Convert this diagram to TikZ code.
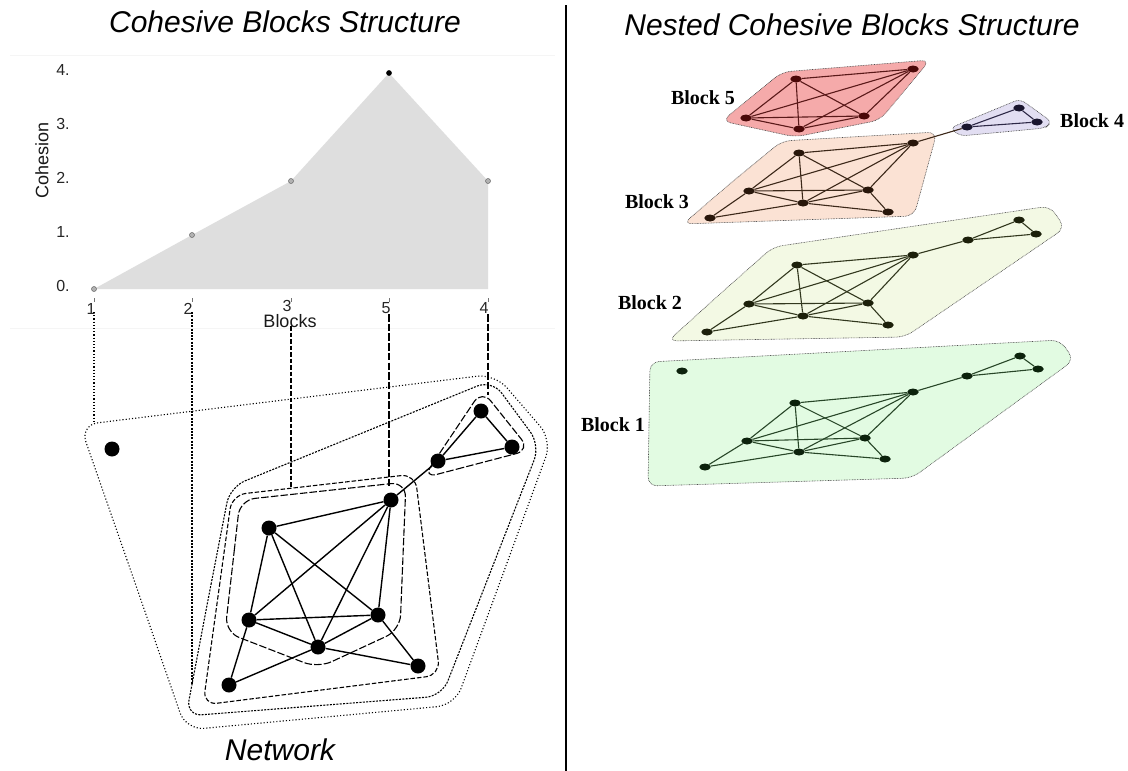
\documentclass[tikz,border=0pt]{standalone}
\usepackage{fontspec}
\setmainfont{Liberation Sans}
\newfontfamily\blkfont{Liberation Serif}
\usetikzlibrary{shapes.geometric}
\definecolor{chartfill}{RGB}{222,222,222}
\definecolor{fillA}{RGB}{226,251,226}
\definecolor{fillB}{RGB}{243,249,228}
\definecolor{fillC}{RGB}{251,226,212}
\definecolor{fillD}{RGB}{226,222,242}
\definecolor{fillE}{RGB}{245,170,170}
\definecolor{nodeA}{RGB}{12,34,12}
\definecolor{nodeB}{RGB}{28,32,10}
\definecolor{nodeC}{RGB}{40,22,10}
\definecolor{nodeD}{RGB}{26,22,46}
\definecolor{nodeE}{RGB}{75,8,8}
\definecolor{edgeA}{RGB}{40,70,40}
\definecolor{edgeB}{RGB}{50,56,30}
\definecolor{edgeC}{RGB}{60,40,25}
\definecolor{edgeD}{RGB}{45,40,70}
\definecolor{edgeE}{RGB}{90,25,25}
\begin{document}
\begin{tikzpicture}[x=1pt,y=-1pt,
  titletext/.style={font=\fontsize{30}{36}\selectfont\itshape, inner sep=0},
  axlab/.style={font=\fontsize{18}{22}\selectfont, inner sep=0, text=black!90},
  ticklab/.style={font=\fontsize{16}{19}\selectfont, inner sep=0, text=black!85},
  chartpt/.style={circle, fill=gray!60, draw=black!60, line width=0.5pt, inner sep=0, minimum size=5pt},
  netnode/.style={circle, fill=black, inner sep=0, minimum size=15pt},
  netedge/.style={line width=1.4pt},
  cA/.style={dash pattern=on 1.1pt off 2.1pt, line width=1.1pt},
  cB/.style={dash pattern=on 2pt off 1.3pt, line width=1.1pt},
  cC/.style={dash pattern=on 4.5pt off 2pt, line width=1.1pt},
  cE/.style={dash pattern=on 7.5pt off 2.2pt, line width=1.1pt},
  cD/.style={dash pattern=on 7.5pt off 2.2pt, line width=1.1pt},
  blkshape/.style={draw=black!70, dash pattern=on 0.8pt off 0.8pt, line width=0.6pt, rounded corners=9pt},
  rnode/.style={ellipse, fill=#1, inner sep=0, minimum width=11.5pt, minimum height=7pt},
  redge/.style={draw=#1, line width=1.1pt},
  blklab/.style={font=\blkfont\bfseries\fontsize{20}{24}\selectfont, inner sep=0}
]
\fill[white] (0,0) rectangle (1128,771);
\useasboundingbox (0,0) rectangle (1128,771);

% ---------------- titles and divider ----------------
\node[titletext] (ttl) at (285,22) {Cohesive Blocks Structure};
\node[titletext] (ttr) at (852,25) {Nested Cohesive Blocks Structure};
\node[titletext] (ttn) at (280,750) {Network};
\coordinate (dtop) at (566,5);
\coordinate (dbot) at (566,771);
\draw[line width=1.3pt] (dtop) -- (dbot);

% ---------------- chart ----------------
\draw[black!4, line width=1pt] (10,55) -- (555,55);
\draw[black!4, line width=1pt] (10,328) -- (555,328);
\coordinate (q1) at (94,289);
\coordinate (q2) at (192,235);
\coordinate (q3) at (291,181);
\coordinate (q5) at (389,73);
\coordinate (q4) at (488,181);
\coordinate (q0) at (488,289);
\fill[chartfill] (q1) -- (q2) -- (q3) -- (q5) -- (q4) -- (q0) -- cycle;
\node[chartpt] (p1) at (q1) {};
\node[chartpt] (p2) at (q2) {};
\node[chartpt] (p3) at (q3) {};
\node[chartpt, fill=black, draw=black] (p5) at (q5) {};
\node[chartpt] (p4) at (q4) {};
\node[ticklab] (y4) at (63,70) {4.};
\node[ticklab] (y3) at (63,124) {3.};
\node[ticklab] (y2) at (63,178) {2.};
\node[ticklab] (y1) at (63,232) {1.};
\node[ticklab] (y0) at (63,286) {0.};
\node[axlab, rotate=90] (ylab) at (42,160) {Cohesion};
\node[ticklab] (x1) at (91,309) {1};
\node[ticklab] (x2) at (188,309) {2};
\node[ticklab] (x3) at (287,306) {3};
\node[ticklab] (x5) at (386,308) {5};
\node[ticklab] (x4) at (484,308) {4};
\node[axlab] (xlab) at (290,321) {Blocks};
\foreach \xx in {94,192,291,389,488} {\draw[black!55, line width=0.5pt] (\xx,298) -- (\xx,302);}

% ---------------- network contours ----------------
\draw[cA, rounded corners=18pt] (133,577) -- (80,425) -- (495,374) -- (552,440) -- (455,705) -- (186,730) -- cycle;
\draw[cB, rounded corners=16pt] (208,600) -- (230,487) -- (492,380) -- (540,445) -- (442,696) -- (186,716) -- cycle;
\draw[cC, rounded corners=14pt] (217.5,600) -- (232,495) -- (415,474) -- (440,675) -- (203,705) -- cycle;
\draw[cE, rounded corners=15pt] (232.5,566) -- (240,500) -- (406,482) -- (400,630) -- (318,668) -- (225,632) -- cycle;
\draw[cD, rounded corners=14pt] (476.5,464) -- (423,478) -- (482,390) -- (530,450) -- cycle;

% connectors from the chart
\coordinate (k1s) at (94,312);  \coordinate (k1e) at (94,423);
\coordinate (k2s) at (192,312); \coordinate (k2e) at (192,684);
\coordinate (k3s) at (291,326); \coordinate (k3e) at (291,488);
\coordinate (k5s) at (389,314); \coordinate (k5e) at (389,486);
\coordinate (k4s) at (488,314); \coordinate (k4e) at (488,395);
\draw[cA] (k1s) -- (k1e);
\draw[cB] (k2s) -- (k2e);
\draw[cC] (k3s) -- (k3e);
\draw[cE] (k5s) -- (k5e);
\draw[cD] (k4s) -- (k4e);

% ---------------- network ----------------
\node[netnode] (iso) at (112,449) {};
\node[netnode] (n1) at (269,528) {};
\node[netnode] (n2) at (391,500) {};
\node[netnode] (n3) at (249,620) {};
\node[netnode] (n4) at (378,615) {};
\node[netnode] (n5) at (318,647) {};
\node[netnode] (n6) at (229,685) {};
\node[netnode] (n7) at (418,666) {};
\node[netnode] (m1) at (438,461) {};
\node[netnode] (m2) at (481,411) {};
\node[netnode] (m3) at (512,447) {};
\foreach \u/\v in {n1/n2,n1/n3,n1/n4,n1/n5,n2/n3,n2/n4,n2/n5,n3/n4,n3/n5,n4/n5,n3/n6,n6/n5,n5/n7,n4/n7,n2/m1,m1/m2,m2/m3,m1/m3}
  {\draw[netedge] (\u) -- (\v);}

% ---------------- nested blocks (right) ----------------
% Block 1
\filldraw[blkshape, fill=fillA] (649,424) -- (650,362) -- (1060,340) -- (1074,360) -- (912,478) -- (648,486) -- cycle;
\node[rnode=nodeA] (a0) at (682,371) {};
\node[rnode=nodeA] (aa) at (795,403) {};
\node[rnode=nodeA] (ab) at (913,392) {};
\node[rnode=nodeA] (ac) at (747,441) {};
\node[rnode=nodeA] (ad) at (865,438) {};
\node[rnode=nodeA] (ae) at (799,452) {};
\node[rnode=nodeA] (af) at (705,467) {};
\node[rnode=nodeA] (ag) at (885,459) {};
\node[rnode=nodeA] (ah) at (967,376) {};
\node[rnode=nodeA] (ai) at (1020,356) {};
\node[rnode=nodeA] (aj) at (1038,369) {};
\foreach \u/\v in {a/b,a/c,a/d,a/e,b/c,b/d,b/e,c/d,c/e,d/e,c/f,f/e,e/g,d/g,b/h,h/i,i/j,h/j}
  {\draw[redge=edgeA] (a\u) -- (a\v);}
\node[blklab] (lab1) at (613,425) {Block 1};

% Block 2
\filldraw[blkshape, fill=fillB] (720,294) -- (773,247) -- (1050,206) -- (1065,228) -- (905,337) -- (668,341) -- cycle;
\node[rnode=nodeB] (ba) at (797,265) {};
\node[rnode=nodeB] (bb) at (913,255) {};
\node[rnode=nodeB] (bc) at (749,304) {};
\node[rnode=nodeB] (bd) at (868,303) {};
\node[rnode=nodeB] (be) at (803,316) {};
\node[rnode=nodeB] (bf) at (707,332) {};
\node[rnode=nodeB] (bg) at (888,325) {};
\node[rnode=nodeB] (bh) at (968,240) {};
\node[rnode=nodeB] (bi) at (1019,220) {};
\node[rnode=nodeB] (bj) at (1036,234) {};
\foreach \u/\v in {a/b,a/c,a/d,a/e,b/c,b/d,b/e,c/d,c/e,d/e,c/f,f/e,e/g,d/g,b/h,h/i,i/j,h/j}
  {\draw[redge=edgeB] (b\u) -- (b\v);}
\node[blklab] (lab2) at (650,303) {Block 2};

% Block 3
\filldraw[blkshape, fill=fillC] (732,182) -- (782,141) -- (937,132) -- (914,216) -- (683,224) -- cycle;
% Block 4
\filldraw[blkshape, fill=fillD, rounded corners=6pt] (1003,132) -- (960,136) -- (950,128) -- (1020,99) -- (1052,122) -- (1045,128) -- cycle;
\node[rnode=nodeC] (ca) at (799,153) {};
\node[rnode=nodeC] (cb) at (913,143) {};
\node[rnode=nodeC] (cc) at (749,191) {};
\node[rnode=nodeC] (cd) at (868,190) {};
\node[rnode=nodeC] (ce) at (803,203) {};
\node[rnode=nodeC] (cf) at (710,218) {};
\node[rnode=nodeC] (cg) at (888,212) {};
\foreach \u/\v in {a/b,a/c,a/d,a/e,b/c,b/d,b/e,c/d,c/e,d/e,c/f,f/e,e/g,d/g}
  {\draw[redge=edgeC] (c\u) -- (c\v);}
\node[blklab] (lab3) at (657,202) {Block 3};
\node[rnode=nodeD] (dh) at (967,127) {};
\node[rnode=nodeD] (di) at (1019,108) {};
\node[rnode=nodeD] (dj) at (1037,122) {};
\foreach \u/\v in {h/i,i/j,h/j}
  {\draw[redge=edgeD] (d\u) -- (d\v);}
\draw[redge=edgeC] (cb) -- (dh);
\node[blklab, anchor=west] (lab4) at (1060,121) {Block 4};

% Block 5
\filldraw[blkshape, fill=fillE] (758.5,129) -- (722,121) -- (782,72) -- (930,60) -- (880,120) -- (795,137) -- cycle;
\node[rnode=nodeE] (ea) at (796,79) {};
\node[rnode=nodeE] (eb) at (913,69) {};
\node[rnode=nodeE] (ec) at (746,118) {};
\node[rnode=nodeE] (ed) at (864,116) {};
\node[rnode=nodeE] (ee) at (799,129) {};
\foreach \u/\v in {a/b,a/c,a/d,a/e,b/c,b/d,b/e,c/d,c/e,d/e}
  {\draw[redge=edgeE] (e\u) -- (e\v);}
\node[blklab] (lab5) at (703,98) {Block 5};
\end{tikzpicture}
\end{document}
